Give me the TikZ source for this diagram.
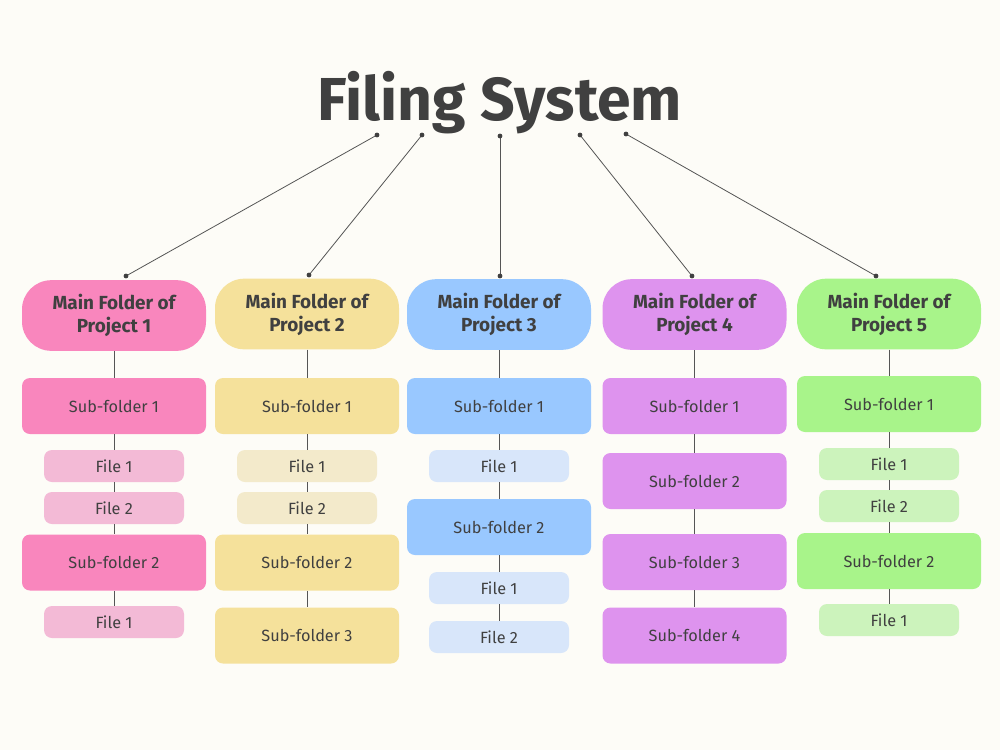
\documentclass[tikz,border=0pt]{standalone}
\usepackage{fontspec}
\setmainfont{Fira Sans}
\definecolor{bg}{HTML}{FDFCF7}
\definecolor{txt}{HTML}{404040}
\definecolor{ln}{HTML}{555555}
\definecolor{pinkM}{HTML}{F986BD}
\definecolor{pinkF}{HTML}{F3BAD6}
\definecolor{yelM}{HTML}{F5E19B}
\definecolor{yelF}{HTML}{F3EACB}
\definecolor{bluM}{HTML}{99C8FF}
\definecolor{bluF}{HTML}{D8E6FA}
\definecolor{purM}{HTML}{DE93EE}
\definecolor{grnM}{HTML}{A8F48A}
\definecolor{grnF}{HTML}{CCF3BC}
\tikzset{
  mainbox/.style={rounded corners=22pt, minimum width=138pt, minimum height=53pt, inner sep=0pt,
    align=center, text=txt, font=\fontsize{14.2pt}{17.2pt}\selectfont\bfseries},
  subbox/.style={rounded corners=6pt, minimum width=138pt, minimum height=42pt, inner sep=0pt,
    text=txt, font=\fontsize{12.2pt}{14pt}\selectfont},
  filebox/.style={rounded corners=6pt, minimum width=105pt, minimum height=24pt, inner sep=0pt,
    text=txt, font=\fontsize{12.2pt}{14pt}\selectfont},
  link/.style={draw=ln, line width=0.6pt},
  dotc/.style={fill=txt, circle, inner sep=0pt, minimum size=3.6pt},
}
\begin{document}
\begin{tikzpicture}[x=0.75pt,y=-0.75pt]
\fill[bg] (0,0) rectangle (1000,750);
\useasboundingbox (0,0) rectangle (1000,750);
\node[text=txt, font=\fontsize{45.5pt}{50pt}\selectfont\bfseries] (title) at (500,103) {Filing System};

% column 1
\node[mainbox, fill=pinkM] (m1) at (114,315.5) {Main Folder of\\Project 1};
\node[subbox, fill=pinkM] (a1) at (114,406) {Sub-folder 1};
\node[filebox, fill=pinkF] (a2) at (114,466) {File 1};
\node[filebox, fill=pinkF] (a3) at (114,508) {File 2};
\node[subbox, fill=pinkM] (a4) at (114,562.5) {Sub-folder 2};
\node[filebox, fill=pinkF] (a5) at (114,622) {File 1};
% column 2
\node[mainbox, fill=yelM] (m2) at (307,314) {Main Folder of\\Project 2};
\node[subbox, fill=yelM] (b1) at (307,406) {Sub-folder 1};
\node[filebox, fill=yelF] (b2) at (307,466) {File 1};
\node[filebox, fill=yelF] (b3) at (307,508) {File 2};
\node[subbox, fill=yelM] (b4) at (307,562.5) {Sub-folder 2};
\node[subbox, fill=yelM] (b5) at (307,635.5) {Sub-folder 3};
% column 3
\node[mainbox, fill=bluM] (m3) at (499,314.5) {Main Folder of\\Project 3};
\node[subbox, fill=bluM] (c1) at (499,406) {Sub-folder 1};
\node[filebox, fill=bluF] (c2) at (499,466) {File 1};
\node[subbox, fill=bluM] (c3) at (499,527) {Sub-folder 2};
\node[filebox, fill=bluF] (c4) at (499,588) {File 1};
\node[filebox, fill=bluF] (c5) at (499,637) {File 2};
% column 4
\node[mainbox, fill=purM] (m4) at (694.5,314.5) {Main Folder of\\Project 4};
\node[subbox, fill=purM] (d1) at (694.5,406) {Sub-folder 1};
\node[subbox, fill=purM] (d2) at (694.5,481) {Sub-folder 2};
\node[subbox, fill=purM] (d3) at (694.5,562) {Sub-folder 3};
\node[subbox, fill=purM] (d4) at (694.5,635.5) {Sub-folder 4};
% column 5
\node[mainbox, fill=grnM] (m5) at (889,314) {Main Folder of\\Project 5};
\node[subbox, fill=grnM] (e1) at (889,404) {Sub-folder 1};
\node[filebox, fill=grnF] (e2) at (889,464) {File 1};
\node[filebox, fill=grnF] (e3) at (889,506) {File 2};
\node[subbox, fill=grnM] (e4) at (889,561) {Sub-folder 2};
\node[filebox, fill=grnF] (e5) at (889,620) {File 1};

% vertical links
\draw[link] (m1) -- (a1) -- (a2) -- (a3) -- (a4) -- (a5);
\draw[link] (m2) -- (b1) -- (b2) -- (b3) -- (b4) -- (b5);
\draw[link] (m3) -- (c1) -- (c2) -- (c3) -- (c4) -- (c5);
\draw[link] (m4) -- (d1) -- (d2) -- (d3) -- (d4);
\draw[link] (m5) -- (e1) -- (e2) -- (e3) -- (e4) -- (e5);

% top links
\coordinate (s1) at (377,135);
\coordinate (s2) at (422,135);
\coordinate (s3) at (500,136);
\coordinate (s4) at (580,135);
\coordinate (s5) at (626,134);
\coordinate (t1) at (126,276);
\coordinate (t2) at (309,275);
\coordinate (t3) at (500,276);
\coordinate (t4) at (692,276);
\coordinate (t5) at (876,276);
\foreach \i in {1,...,5}{
  \draw[link] (s\i) -- (t\i);
  \node[dotc] at (s\i) {};
  \node[dotc] at (t\i) {};
}
\end{tikzpicture}
\end{document}
